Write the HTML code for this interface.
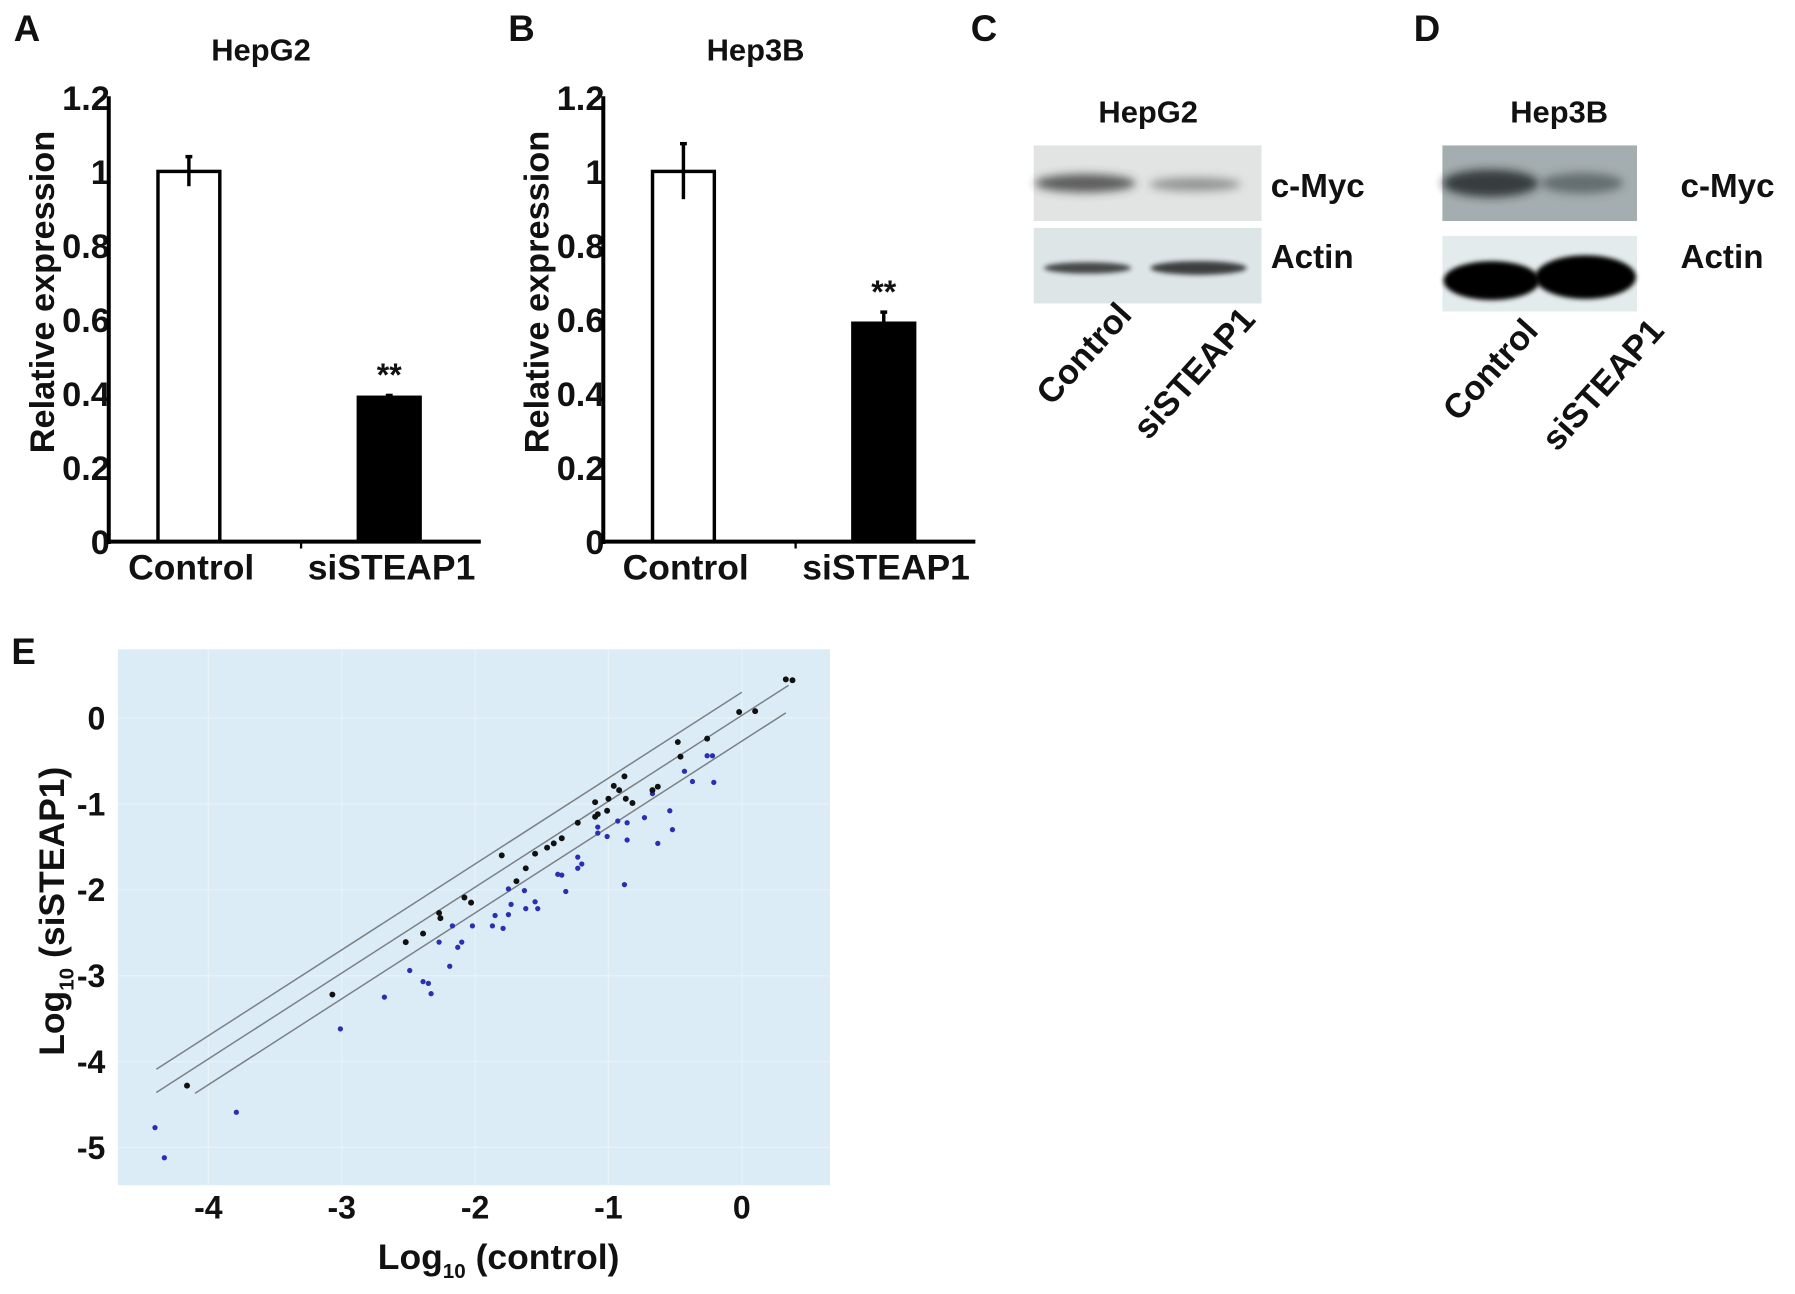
<!DOCTYPE html>
<html><head><meta charset="utf-8"><style>
html,body{margin:0;padding:0;background:#fff;}
svg{display:block;}
text{font-family:"Liberation Sans Narrow","Liberation Sans",Arial,sans-serif;font-weight:bold;fill:#111;}
</style></head><body>
<svg id="fig" width="1795" height="1294" viewBox="0 0 1568 1130" preserveAspectRatio="none" xmlns="http://www.w3.org/2000/svg">
<defs>
<filter id="b4" x="-30%" y="-100%" width="160%" height="300%"><feGaussianBlur stdDeviation="4"/></filter>
<filter id="b2" x="-30%" y="-100%" width="160%" height="300%"><feGaussianBlur stdDeviation="2"/></filter>
</defs>
<g id="panelA"></g>
<g id="panelB"></g>

<!-- Panel C -->
<g>
<text x="848" y="36" font-size="32">C</text>
<text x="1003" y="107" font-size="27" text-anchor="middle">HepG2</text>
<rect x="903" y="127" width="199" height="66" fill="#e2e3e3"/>
<ellipse cx="948" cy="160" rx="44" ry="8" fill="#333" opacity="0.75" filter="url(#b4)"/>
<ellipse cx="1044" cy="161" rx="40" ry="6" fill="#555" opacity="0.55" filter="url(#b4)"/>
<rect x="903" y="199" width="199" height="66" fill="#dde5e7"/>
<ellipse cx="950" cy="234" rx="38" ry="5" fill="#222" opacity="0.8" filter="url(#b2)"/>
<ellipse cx="1047" cy="234" rx="42" ry="6" fill="#222" opacity="0.85" filter="url(#b2)"/>
<text x="1110" y="172" font-size="29">c-Myc</text>
<text x="1110" y="234" font-size="29">Actin</text>
<text transform="translate(990,276) rotate(-48)" font-size="30" text-anchor="end">Control</text>
<text transform="translate(1098,280) rotate(-48)" font-size="30" text-anchor="end">siSTEAP1</text>
</g>

<!-- Panel D -->
<g>
<text x="1235" y="36" font-size="32">D</text>
<text x="1362" y="107" font-size="27" text-anchor="middle">Hep3B</text>
<rect x="1260" y="127" width="170" height="66" fill="#a4adaf"/>
<ellipse cx="1302" cy="160" rx="42" ry="12" fill="#1b2224" opacity="0.8" filter="url(#b4)"/>
<ellipse cx="1382" cy="160" rx="36" ry="9" fill="#3a4446" opacity="0.6" filter="url(#b4)"/>
<rect x="1260" y="206" width="170" height="66" fill="#e4ebec"/>
<ellipse cx="1303" cy="245" rx="42" ry="17" fill="#000" filter="url(#b2)"/>
<ellipse cx="1385" cy="242" rx="44" ry="19" fill="#000" filter="url(#b2)"/>
<text x="1468" y="172" font-size="29">c-Myc</text>
<text x="1468" y="234" font-size="29">Actin</text>
<text transform="translate(1345,290) rotate(-48)" font-size="30" text-anchor="end">Control</text>
<text transform="translate(1455,290) rotate(-48)" font-size="30" text-anchor="end">siSTEAP1</text>
</g>

<g id="panelE"></g>
</svg>
<script>
// ---- Bar chart data ----
const barCategories = ["Control", "siSTEAP1"];
const hepg2Values = [1.0, 0.39];
const hepg2Errors = [0.04, 0.005];
const hep3bValues = [1.0, 0.59];
const hep3bErrors = [0.075, 0.03];
const barTicks = [0, 0.2, 0.4, 0.6, 0.8, 1, 1.2];
const barTickLabels = ["0", "0.2", "0.4", "0.6", "0.8", "1", "1.2"];

// ---- Scatter data (log10 control, log10 siSTEAP1) ----
const blackX = [-4.16,-3.07,-2.52,-2.39,-2.27,-2.26,-2.08,-2.03,-1.80,-1.69,-1.62,-1.55,-1.46,-1.41,-1.35,-1.23,-1.10,-1.08,-1.01,-1.10,-1.00,-0.96,-0.92,-0.88,-0.87,-0.82,-0.67,-0.63,-0.48,-0.46,-0.26,-0.02,0.10,0.33,0.38];
const blackY = [-4.28,-3.22,-2.61,-2.51,-2.27,-2.33,-2.09,-2.15,-1.60,-1.90,-1.75,-1.58,-1.51,-1.46,-1.40,-1.22,-1.15,-1.12,-1.08,-0.98,-0.94,-0.79,-0.84,-0.68,-0.94,-0.99,-0.84,-0.80,-0.28,-0.45,-0.24,0.07,0.08,0.45,0.44];
const blueX = [-4.40,-4.33,-3.79,-3.01,-2.68,-2.49,-2.39,-2.35,-2.33,-2.27,-2.19,-2.17,-2.13,-2.10,-2.02,-1.87,-1.85,-1.79,-1.75,-1.75,-1.73,-1.63,-1.62,-1.55,-1.53,-1.38,-1.35,-1.32,-1.23,-1.23,-1.20,-1.08,-1.08,-1.01,-0.93,-0.86,-0.86,-0.88,-0.73,-0.67,-0.63,-0.54,-0.52,-0.43,-0.37,-0.26,-0.22,-0.21];
const blueY = [-4.77,-5.12,-4.59,-3.62,-3.25,-2.94,-3.07,-3.09,-3.21,-2.61,-2.89,-2.42,-2.67,-2.61,-2.42,-2.42,-2.30,-2.45,-1.99,-2.29,-2.17,-2.01,-2.22,-2.14,-2.22,-1.82,-1.83,-2.02,-1.62,-1.75,-1.70,-1.27,-1.34,-1.38,-1.20,-1.42,-1.22,-1.94,-1.16,-0.88,-1.46,-1.08,-1.30,-0.62,-0.74,-0.44,-0.44,-0.75];
const lineOffsets = [0.3, 0.03, -0.27];
const lineStartX = [-4.39, -4.39, -4.1];
const lineEndX = [0.0, 0.35, 0.33];
const xTicks = [-4, -3, -2, -1, 0];
const yTicks = [0, -1, -2, -3, -4, -5];

const NS = "http://www.w3.org/2000/svg";
function mk(parent, tag, attrs, txt) {
  const e = document.createElementNS(NS, tag);
  for (const k in attrs) e.setAttribute(k, attrs[k]);
  if (txt !== undefined) e.textContent = txt;
  parent.appendChild(e);
  return e;
}

function barPanel(g, ox, letter, title, values, errs, nameKey) {
  const y = v => 473 - v * 323.3;
  const axX = ox;
  let t = mk(g, "text", {x: ox - 83, y: 36, "font-size": 32}, letter);
  
  
  t = mk(g, "text", {x: ox + 133, y: 53, "font-size": 27, "text-anchor": "middle"}, title);
  
  
  barTicks.forEach((v, i) => {
    const lab = mk(g, "text", {x: axX + 1, y: y(v) + 11, "font-size": 30, "text-anchor": "end"}, barTickLabels[i]);
    
    
  });
  let yt = mk(g, "text", {transform: `translate(${ox - 48},255) rotate(-90)`, "font-size": 30, "text-anchor": "middle"}, "Relative expression");
  
  
  const centers = [ox + 70, ox + 245];
  values.forEach((v, i) => {
    const r = mk(g, "rect", {x: centers[i] - 27, y: y(v), width: 54, height: 473 - y(v),
      fill: i === 0 ? "#fff" : "#000", stroke: "#000", "stroke-width": 3});
    
    
    const e = mk(g, "line", {x1: centers[i], x2: centers[i], y1: y(v + errs[i]), y2: y(v - errs[i]), stroke: "#000", "stroke-width": 3});
    
    
    mk(g, "line", {x1: centers[i] - 3, x2: centers[i] + 3, y1: y(v + errs[i]), y2: y(v + errs[i]), stroke: "#000", "stroke-width": 3});
    const xl = mk(g, "text", {x: centers[i] + 2, y: 506, "font-size": 31, "text-anchor": "middle"}, barCategories[i]);
    
    
  });
  const st = mk(g, "text", {x: centers[1], y: y(values[1] + errs[1]) - 8, "font-size": 28, "text-anchor": "middle", "font-weight": "normal"}, "**");
  
  
  const ya = mk(g, "line", {x1: axX, x2: axX, y1: 84, y2: 475, stroke: "#000", "stroke-width": 3.5});
  
  
  const xa = mk(g, "line", {x1: axX, x2: axX + 325, y1: 473, y2: 473, stroke: "#000", "stroke-width": 3.5});
  
  
  mk(g, "line", {x1: axX + 168, x2: axX + 168, y1: 473, y2: 479, stroke: "#000", "stroke-width": 2});
}
barPanel(document.getElementById("panelA"), 95, "A", "HepG2", hepg2Values, hepg2Errors, "hepg2");
barPanel(document.getElementById("panelB"), 527, "B", "Hep3B", hep3bValues, hep3bErrors, "hep3b");

// Panel E scatter
(function () {
  const g = document.getElementById("panelE");
  const sx = v => 648 + 116.5 * v;
  const sy = v => 627 - 75 * v;
  let t = mk(g, "text", {x: 10, y: 580, "font-size": 32}, "E");
  
  
  const bg = mk(g, "rect", {x: 103, y: 567, width: 622, height: 468, fill: "#dcecf7"});
  
  
  xTicks.forEach(v => {
    const l = mk(g, "line", {x1: sx(v), x2: sx(v), y1: 567, y2: 1035, stroke: "#e8f2f9", "stroke-width": 1});
    
    
    const lab = mk(g, "text", {x: sx(v), y: 1064, "font-size": 28, "text-anchor": "middle"}, String(v));
    
    
  });
  yTicks.forEach(v => {
    const l = mk(g, "line", {x1: 103, x2: 725, y1: sy(v), y2: sy(v), stroke: "#e8f2f9", "stroke-width": 1});
    
    
    const lab = mk(g, "text", {x: 92, y: sy(v) + 10, "font-size": 28, "text-anchor": "end"}, String(v));
    
    
  });
  lineOffsets.forEach((c, i) => {
    const l = mk(g, "line", {x1: sx(lineStartX[i]), y1: sy(lineStartX[i] + c), x2: sx(lineEndX[i]), y2: sy(lineEndX[i] + c), stroke: "#7a8083", "stroke-width": 1.3});
    
    
  });
  blueX.forEach((v, i) => {
    const p = mk(g, "circle", {cx: sx(v), cy: sy(blueY[i]), r: 2.3, fill: "#2a2fb0"});
    
    
  });
  blackX.forEach((v, i) => {
    const p = mk(g, "circle", {cx: sx(v), cy: sy(blackY[i]), r: 2.6, fill: "#111"});
    
    
  });
  const xt = mk(g, "text", {x: 330, y: 1108, "font-size": 31}, "");
  
  
  mk(xt, "tspan", {}, "Log");
  mk(xt, "tspan", {"font-size": 18, dy: 8}, "10");
  mk(xt, "tspan", {dy: -8}, " (control)");
  const yt = mk(g, "text", {transform: "translate(56,922) rotate(-90)", "font-size": 31}, "");
  
  
  mk(yt, "tspan", {}, "Log");
  mk(yt, "tspan", {"font-size": 18, dy: 8}, "10");
  mk(yt, "tspan", {dy: -8}, " (siSTEAP1)");
})();
</script>
</body></html>
